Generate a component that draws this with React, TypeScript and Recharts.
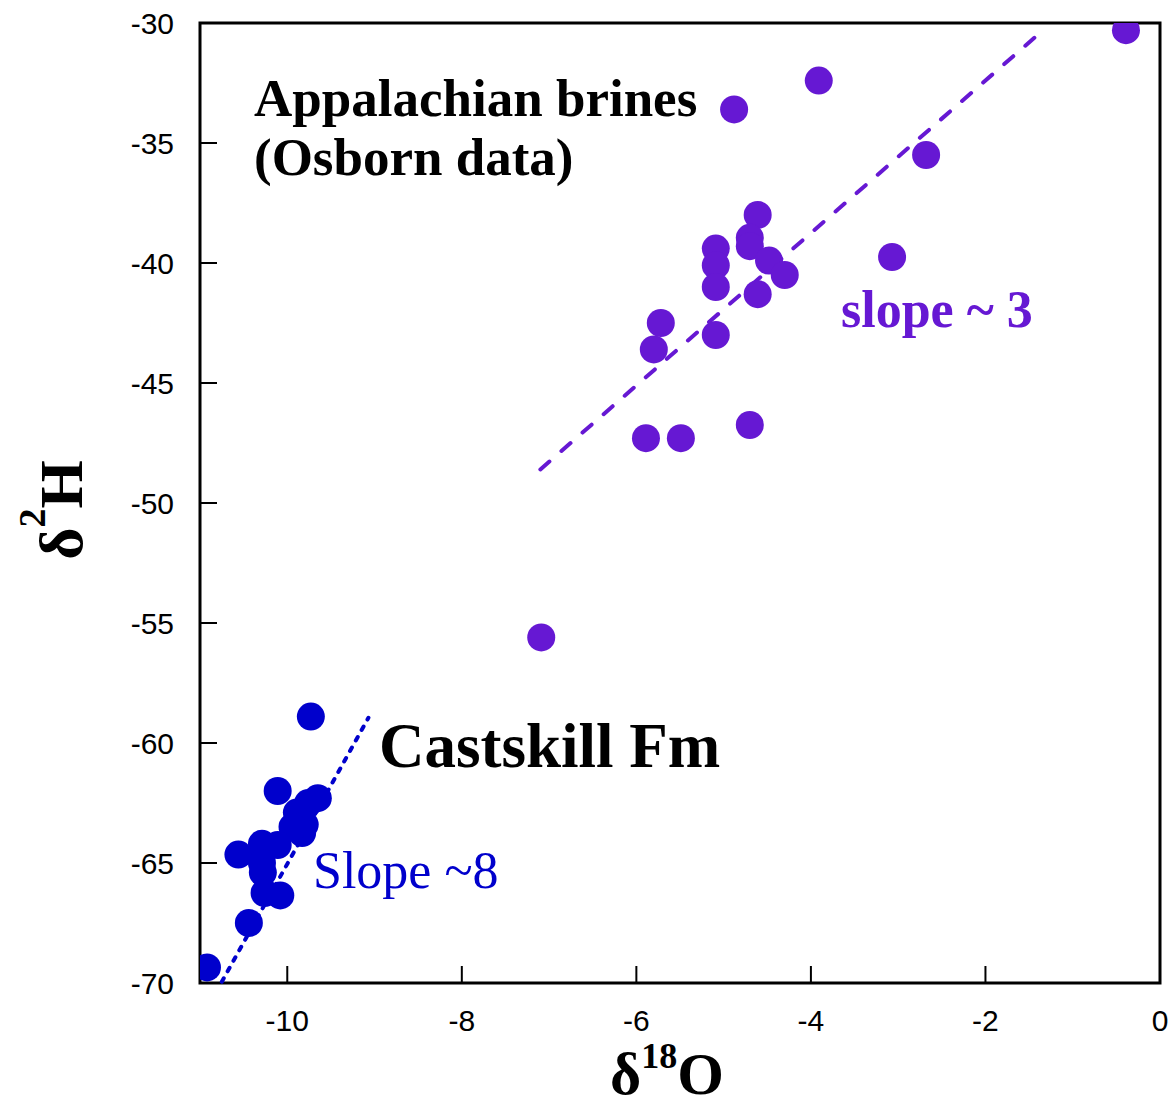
import React from "react";
import {
  ScatterChart,
  Scatter,
  XAxis,
  YAxis,
  ReferenceLine,
  ReferenceArea,
} from "recharts";

// isotope data ---------------------------------------------------------------
// Appalachian brines (Osborn data): δ18O and δ2H, per mil
const brineO18 = [-0.39, -3.91, -4.88, -2.68, -4.61, -5.09, -5.09, -5.09, -4.7, -4.7, -4.48, -4.3, -4.61, -3.07, -5.72, -5.8, -5.09, -5.89, -5.49, -4.7, -7.09];
const brineH2 = [-30.3, -32.4, -33.6, -35.5, -38.0, -39.4, -40.1, -41.0, -38.95, -39.3, -39.9, -40.5, -41.3, -39.75, -42.5, -43.6, -43.0, -47.3, -47.3, -46.75, -55.6];

// Castskill Fm waters
const castO18 = [-9.73, -10.11, -9.65, -9.76, -9.89, -9.8, -9.83, -9.94, -10.11, -10.29, -10.56, -10.29, -10.28, -10.26, -10.08, -10.44, -10.92];
const castH2 = [-58.9, -62.0, -62.3, -62.5, -62.9, -63.4, -63.75, -63.5, -64.25, -64.2, -64.65, -65.0, -65.4, -66.25, -66.35, -67.5, -69.35];

// fitted trend lines, [start, end]
const brineFitO18 = [-7.1, -1.34];
const brineFitH2 = [-48.6, -30.3];
const castFitO18 = [-10.75, -9.07];
const castFitH2 = [-69.95, -58.95];

const xTicks = [-10, -8, -6, -4, -2, 0];
const yTicks = [-70, -65, -60, -55, -50, -45, -40, -35, -30];

// layout -------------------------------------------------------------------
const W = 1169;
const H = 1110;
const PLOT_LEFT = 200;
const PLOT_TOP = 23;
const PLOT_BOTTOM = 983;
const TICK_LEN = 17;

const PURPLE = "#6618D3";
const BLUE = "#0000CC";
const SERIF = "'Liberation Serif', 'Times New Roman', serif";
const SANS = "'Liberation Sans', Arial, sans-serif";

const brines = brineO18.map((o, i) => ({ o, h: brineH2[i] }));
const castskill = castO18.map((o, i) => ({ o, h: castH2[i] }));

const Dot = (color: string) => (p: any) =>
  <circle cx={p.cx} cy={p.cy} r={14} fill={color} />;

const XTick = (p: any) => (
  <g>
    <line x1={p.x} x2={p.x} y1={PLOT_BOTTOM} y2={PLOT_BOTTOM - TICK_LEN} stroke="#000" strokeWidth={2} />
    <text x={p.x} y={1031} textAnchor="middle" fontSize={30} fontFamily={SANS} fill="#000">
      {p.payload.value}
    </text>
  </g>
);

const YTick = (p: any) => (
  <g>
    <line x1={PLOT_LEFT} x2={PLOT_LEFT + TICK_LEN} y1={p.y} y2={p.y} stroke="#000" strokeWidth={2} />
    <text x={174} y={p.y + 11} textAnchor="end" fontSize={30} fontFamily={SANS} fill="#000">
      {p.payload.value}
    </text>
  </g>
);

export default function App() {
  return (
    <div style={{ position: "absolute", left: 0, top: 0, width: W, height: H, background: "#fff" }}>
      <ScatterChart width={W} height={H} margin={{ top: PLOT_TOP, right: 9, bottom: 0, left: 0 }}>
        <XAxis
          type="number"
          dataKey="o"
          domain={[-11, 0]}
          ticks={xTicks}
          allowDataOverflow
          height={H - PLOT_BOTTOM}
          axisLine={false}
          tickLine={false}
          tick={XTick}
        />
        <YAxis
          type="number"
          dataKey="h"
          domain={[-70, -30]}
          ticks={yTicks}
          allowDataOverflow
          width={PLOT_LEFT}
          axisLine={false}
          tickLine={false}
          tick={YTick}
        />
        <ReferenceArea x1={-11} x2={0} y1={-70} y2={-30} fill="none" stroke="#000" strokeWidth={3} ifOverflow="visible" />
        <ReferenceLine
          segment={[{ x: brineFitO18[0], y: brineFitH2[0] }, { x: brineFitO18[1], y: brineFitH2[1] }]}
          stroke={PURPLE}
          strokeWidth={4}
          strokeDasharray="12 16"
          strokeLinecap="round"
          ifOverflow="visible"
        />
        <ReferenceLine
          segment={[{ x: castFitO18[0], y: castFitH2[0] }, { x: castFitO18[1], y: castFitH2[1] }]}
          stroke={BLUE}
          strokeWidth={4}
          strokeDasharray="4 8"
          strokeLinecap="round"
          ifOverflow="visible"
        />
        <Scatter data={brines} shape={Dot(PURPLE)} isAnimationActive={false} />
        <Scatter data={castskill} shape={Dot(BLUE)} isAnimationActive={false} />
      </ScatterChart>

      <svg width={W} height={H} style={{ position: "absolute", left: 0, top: 0, pointerEvents: "none" }}>
        <g fontFamily={SERIF} fontWeight="bold" fill="#000">
          <text x={254} y={116} fontSize={53}>Appalachian brines</text>
          <text x={254} y={175} fontSize={53}>(Osborn data)</text>
          <text x={379} y={767} fontSize={63}>Castskill Fm</text>
          <text x={841} y={327} fontSize={52} fill={PURPLE}>slope ~ 3</text>
        </g>
        <text x={313} y={888} fontSize={52} fontFamily={SERIF} fill={BLUE}>Slope ~8</text>

        {/* axis titles */}
        <text x={667} y={1094} textAnchor="middle" fontFamily={SERIF} fontWeight="bold" fontSize={60} fill="#000">
          δ<tspan dy={-26} fontSize={36}>18</tspan><tspan dy={26}>O</tspan>
        </text>
        <text
          transform="translate(82,510) rotate(-90)"
          textAnchor="middle"
          fontFamily={SERIF}
          fontWeight="bold"
          fontSize={62}
          fill="#000"
        >
          δ<tspan dy={-37} fontSize={38}>2</tspan><tspan dy={37}>H</tspan>
        </text>
      </svg>
    </div>
  );
}
